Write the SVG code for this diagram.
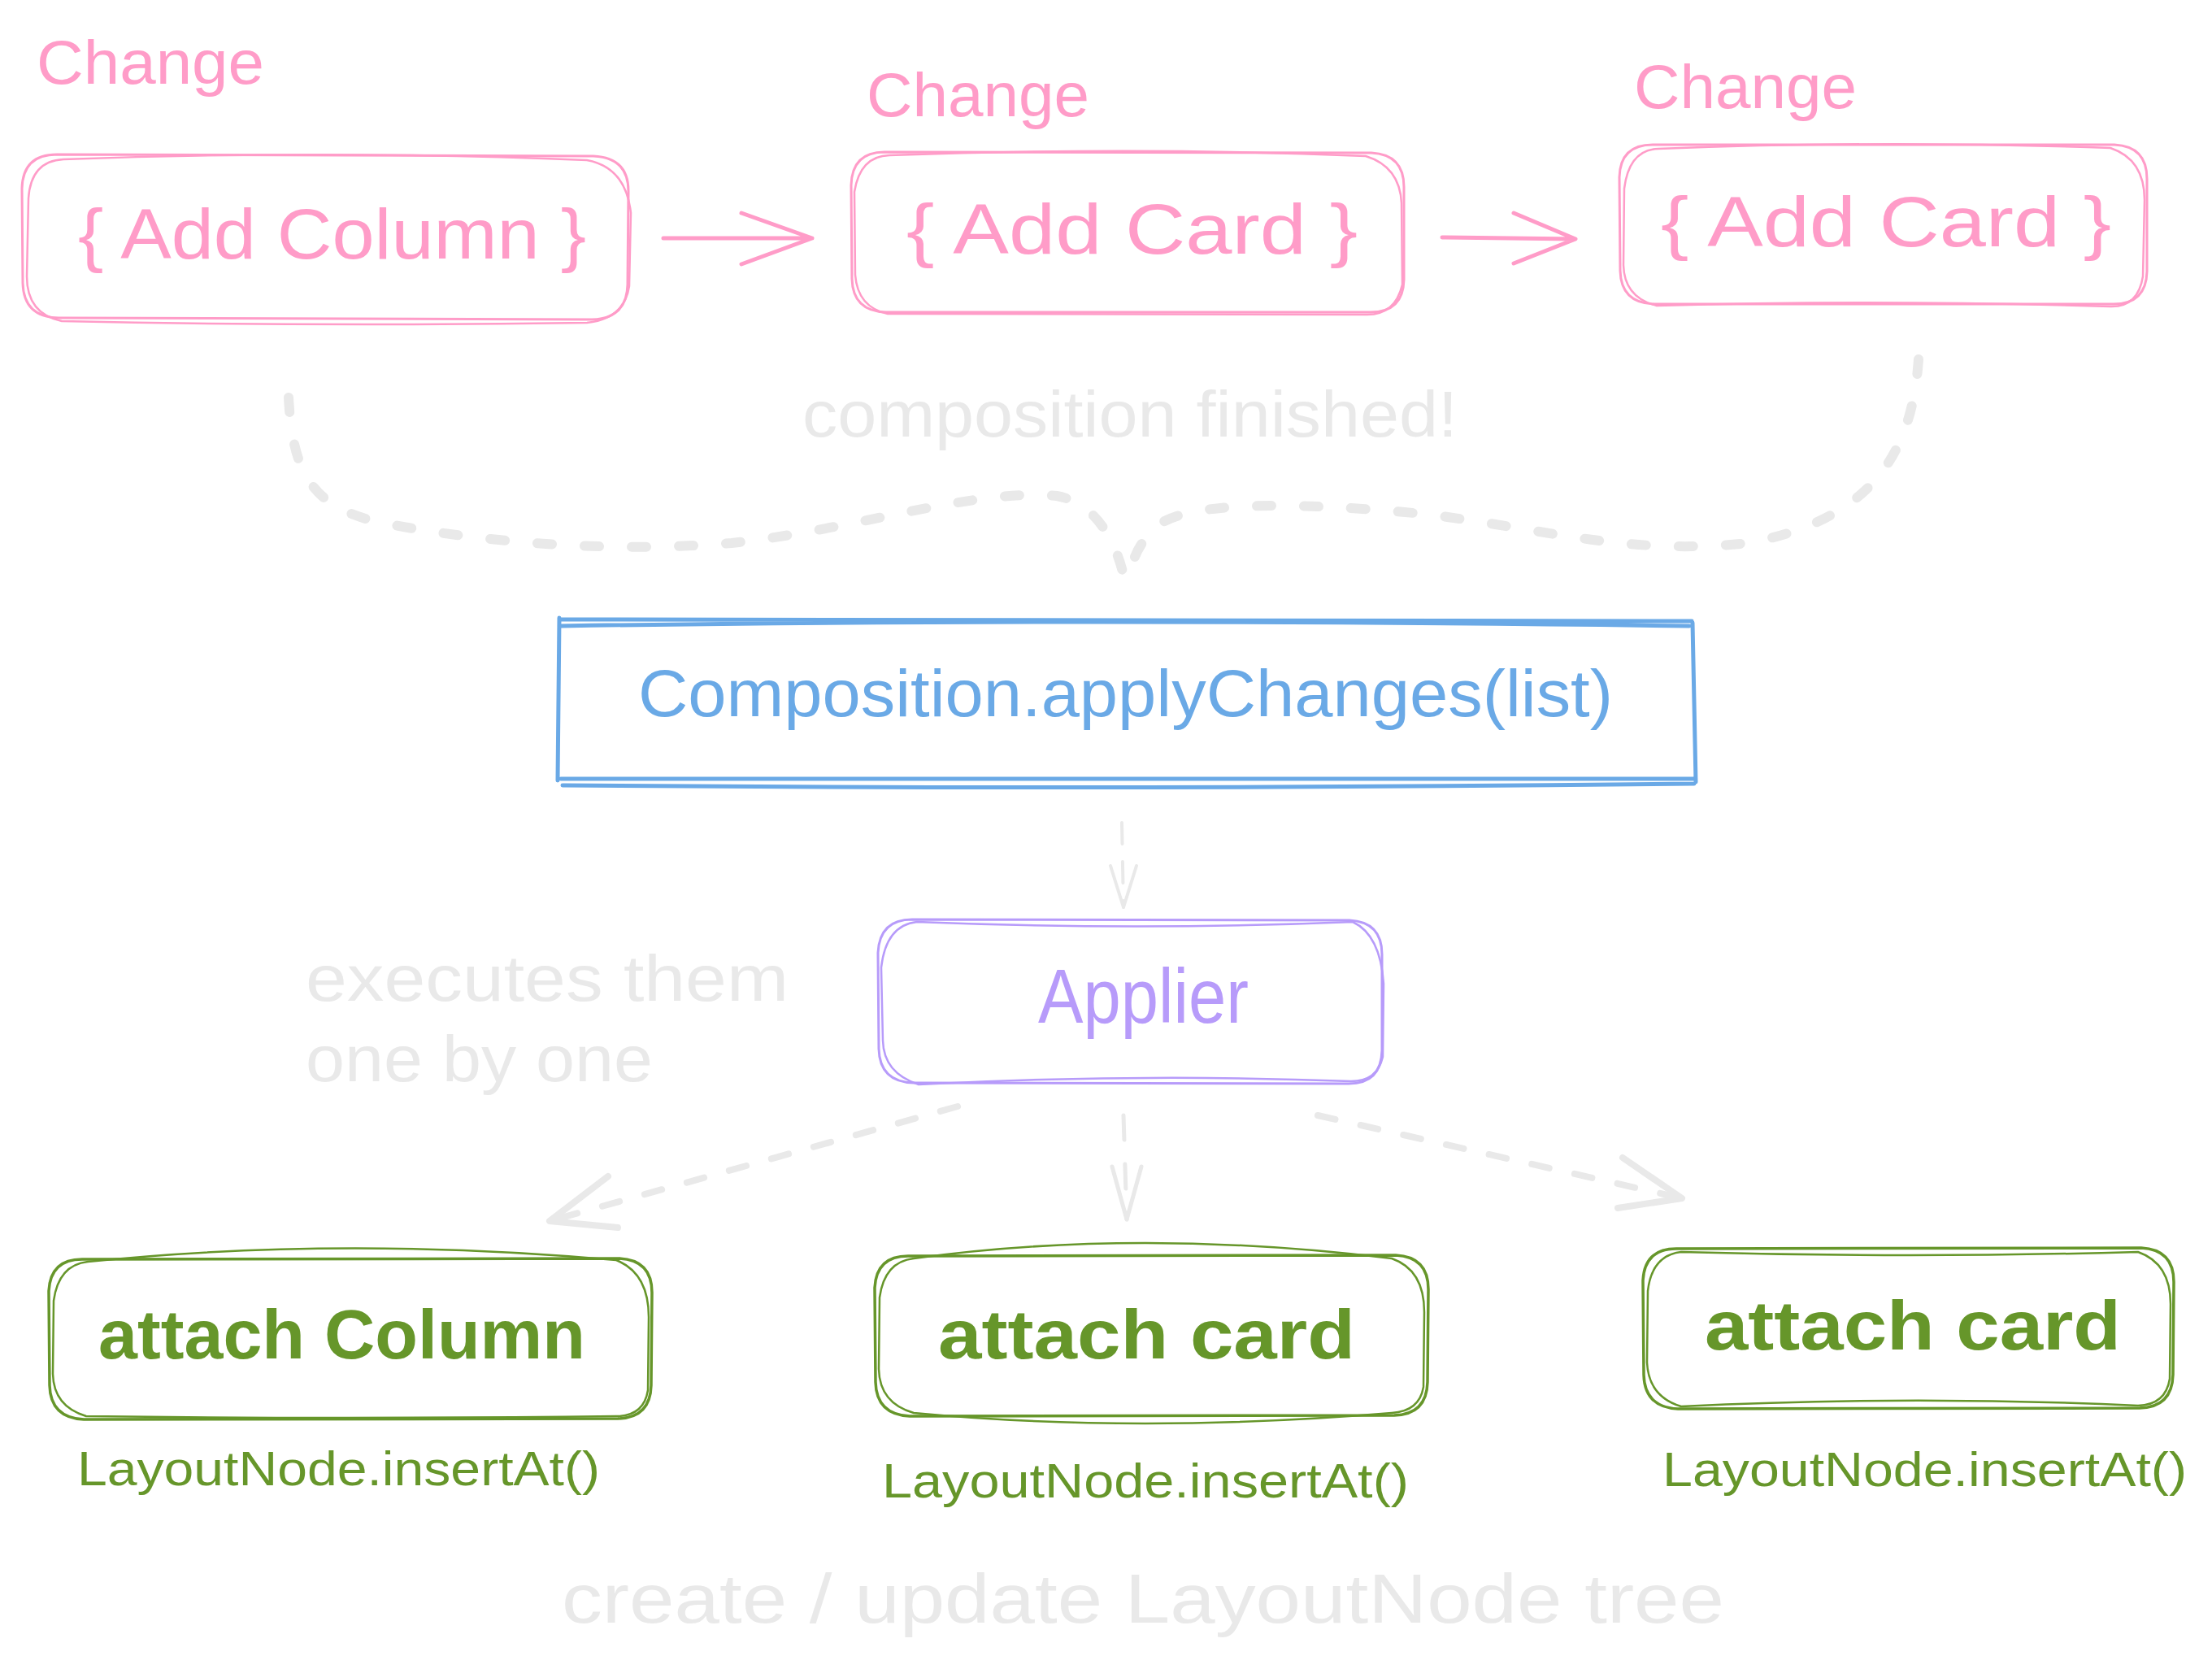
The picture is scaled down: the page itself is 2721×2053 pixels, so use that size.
<svg xmlns="http://www.w3.org/2000/svg" width="2721" height="2053" viewBox="0 0 2721 2053">
<style>
text{font-family:"Liberation Sans","DejaVu Sans",sans-serif}
.pk{fill:#ff9cc8}
.pks{fill:none;stroke:#ff9cc8;stroke-linecap:round;stroke-linejoin:round}
.bl{fill:#6aa9e6}
.bls{fill:none;stroke:#6aa9e6;stroke-linecap:round}
.pu{fill:#b79bfa}
.pus{fill:none;stroke:#b79bfa;stroke-linecap:round}
.gr{fill:#66962a}
.grs{fill:none;stroke:#66962a;stroke-linecap:round}
.gy{fill:#e9e9e9}
.gys{fill:none;stroke:#e9e9e9;stroke-linecap:round;stroke-linejoin:round}
</style>
<rect width="2721" height="2053" fill="#ffffff"/>

<g id="change-label-1"><text class="pk" x="45" y="103" font-size="76" textLength="280" lengthAdjust="spacingAndGlyphs">Change</text></g>
<g id="change-label-2"><text class="pk" x="1066" y="143" font-size="76" textLength="274" lengthAdjust="spacingAndGlyphs">Change</text></g>
<g id="change-label-3"><text class="pk" x="2010" y="133" font-size="76" textLength="274" lengthAdjust="spacingAndGlyphs">Change</text></g>

<g id="add-column">
<path class="pks" stroke-width="3" d="M70,190 L730,192 Q773,194 773,235 L772,350 Q771,392 728,393 L72,391 Q29,390 28,348 L27,232 Q28,190 70,190 Z"/>
<path class="pks" stroke-width="2.5" d="M78,196 Q410,184 722,197 Q770,206 776,262 L774,352 Q768,392 722,397 Q400,402 76,395 Q33,386 33,340 L35,244 Q38,198 78,196 Z"/>
<text class="pk" x="96" y="318" font-size="88" textLength="625" lengthAdjust="spacingAndGlyphs">{ Add Column }</text>
</g>

<g id="add-card-1">
<path class="pks" stroke-width="3" d="M1088,187 L1687,188 Q1727,190 1727,230 L1727,344 Q1726,384 1686,384 L1090,384 Q1049,383 1048,343 L1047,228 Q1048,187 1088,187 Z"/>
<path class="pks" stroke-width="2.5" d="M1094,191 Q1400,180 1680,192 Q1722,205 1724,250 L1725,350 Q1716,388 1680,387 L1092,386 Q1055,378 1052,338 L1051,236 Q1058,192 1094,191 Z"/>
<text class="pk" x="1115" y="312" font-size="88" textLength="555" lengthAdjust="spacingAndGlyphs">{ Add Card }</text>
</g>

<g id="add-card-2">
<path class="pks" stroke-width="3" d="M2033,178 L2601,178 Q2641,180 2641,220 L2641,334 Q2640,374 2600,374 L2035,374 Q1994,373 1993,333 L1992,218 Q1993,178 2033,178 Z"/>
<path class="pks" stroke-width="2.5" d="M2040,183 Q2320,172 2596,182 Q2638,196 2638,246 L2636,340 Q2630,378 2596,377 Q2300,368 2038,376 Q1998,366 1997,326 L1998,232 Q2004,184 2040,183 Z"/>
<text class="pk" x="2043" y="303" font-size="88" textLength="554" lengthAdjust="spacingAndGlyphs">{ Add Card }</text>
</g>

<g id="apply-changes">
<path class="bls" stroke-width="5" d="M688,762 L2081,764 M690,770 Q1300,760 2078,770 M688,760 L686,960 M2082,766 L2086,962 M690,958 L2083,958 M692,966 Q1400,972 2084,964"/>
<text class="bl" x="785" y="881" font-size="82" textLength="1199" lengthAdjust="spacingAndGlyphs">Composition.applyChanges(list)</text>
</g>

<g id="applier">
<path class="pus" stroke-width="3" d="M1122,1131 L1660,1132 Q1700,1134 1700,1174 L1700,1292 Q1699,1333 1659,1333 L1124,1332 Q1082,1331 1081,1290 L1080,1172 Q1082,1131 1122,1131 Z"/>
<path class="pus" stroke-width="2.5" d="M1128,1134 Q1400,1145 1664,1134 Q1698,1150 1702,1210 L1701,1300 Q1694,1330 1662,1330 Q1400,1320 1130,1334 Q1087,1320 1086,1280 L1084,1190 Q1090,1138 1128,1134 Z"/>
<text class="pu" x="1277" y="1258" font-size="94" textLength="259" lengthAdjust="spacingAndGlyphs">Applier</text>
</g>

<g id="attach-column">
<path class="grs" stroke-width="3.5" d="M101,1549 L762,1548 Q802,1550 802,1590 L801,1704 Q800,1744 760,1745 L103,1746 Q62,1744 61,1704 L60,1588 Q62,1549 101,1549 Z"/>
<path class="grs" stroke-width="2.5" d="M108,1552 Q420,1520 758,1550 Q798,1566 798,1620 L797,1710 Q792,1742 758,1742 Q420,1746 106,1742 Q66,1730 65,1690 L66,1600 Q72,1556 108,1552 Z"/>
<text class="gr" x="121" y="1671" font-size="86" font-weight="bold" textLength="599" lengthAdjust="spacingAndGlyphs">attach Column</text>
</g>

<g id="attach-card-1">
<path class="grs" stroke-width="3.5" d="M1117,1545 L1717,1544 Q1757,1546 1757,1586 L1756,1700 Q1755,1740 1715,1741 L1119,1742 Q1078,1740 1077,1700 L1076,1584 Q1078,1545 1117,1545 Z"/>
<path class="grs" stroke-width="2.5" d="M1124,1548 Q1400,1510 1712,1548 Q1752,1562 1752,1614 L1751,1706 Q1746,1736 1712,1738 Q1400,1764 1124,1738 Q1082,1726 1081,1684 L1082,1596 Q1088,1552 1124,1548 Z"/>
<text class="gr" x="1154" y="1671" font-size="86" font-weight="bold" textLength="513" lengthAdjust="spacingAndGlyphs">attach card</text>
</g>

<g id="attach-card-2">
<path class="grs" stroke-width="3.5" d="M2062,1536 L2634,1535 Q2674,1537 2674,1577 L2673,1691 Q2672,1731 2632,1732 L2064,1733 Q2023,1731 2022,1691 L2021,1575 Q2023,1536 2062,1536 Z"/>
<path class="grs" stroke-width="2.5" d="M2068,1540 Q2350,1548 2630,1540 Q2670,1554 2670,1604 L2669,1696 Q2664,1728 2630,1729 Q2350,1716 2068,1730 Q2028,1718 2026,1676 L2027,1588 Q2032,1544 2068,1540 Z"/>
<text class="gr" x="2097" y="1660" font-size="86" font-weight="bold" textLength="512" lengthAdjust="spacingAndGlyphs">attach card</text>
</g>

<g id="insert-1"><text class="gr" x="95" y="1827" font-size="60" textLength="643" lengthAdjust="spacingAndGlyphs">LayoutNode.insertAt()</text></g>
<g id="insert-2"><text class="gr" x="1085" y="1842" font-size="60" textLength="648" lengthAdjust="spacingAndGlyphs">LayoutNode.insertAt()</text></g>
<g id="insert-3"><text class="gr" x="2045" y="1828" font-size="60" textLength="645" lengthAdjust="spacingAndGlyphs">LayoutNode.insertAt()</text></g>

<g id="note-composition-finished"><text class="gy" x="987" y="537" font-size="80" textLength="806" lengthAdjust="spacingAndGlyphs">composition finished!</text></g>
<g id="note-executes">
<text class="gy" x="376" y="1231" font-size="80" textLength="594" lengthAdjust="spacingAndGlyphs">executes them</text>
<text class="gy" x="376" y="1330" font-size="80" textLength="427" lengthAdjust="spacingAndGlyphs">one by one</text>
</g>
<g id="note-create-update"><text class="gy" x="691" y="1996" font-size="86" textLength="1430" lengthAdjust="spacingAndGlyphs">create / update LayoutNode tree</text></g>

<g id="connectors">
<path class="pks" stroke-width="5" d="M816,293 L999,293 M912,262 L999,293 L912,325"/>
<path class="pks" stroke-width="5" d="M1774,292 L1938,294 M1862,262 L1938,294 L1862,324"/>
<path class="gys" stroke-width="12" stroke-dasharray="18 40" d="M355,489 C360,585 385,628 480,645 C600,668 760,680 900,668 C1050,652 1200,600 1300,610 C1355,620 1378,680 1385,722"/>
<path class="gys" stroke-width="12" stroke-dasharray="18 40" d="M2360,442 C2352,560 2300,640 2150,668 C2000,684 1900,650 1750,632 C1600,618 1460,615 1422,648 C1396,672 1389,700 1388,722"/>
<path class="gys" stroke-width="4" stroke-dasharray="26 22" d="M1380,1012 L1382,1116"/>
<path class="gys" stroke-width="4" d="M1366,1065 L1382,1116 L1398,1065"/>
<path class="gys" stroke-width="8" stroke-dasharray="22 32" d="M1178,1361 L676,1502"/>
<path class="gys" stroke-width="8" d="M748,1447 L676,1502 L760,1510"/>
<path class="gys" stroke-width="5" stroke-dasharray="30 30" d="M1382,1372 L1386,1500"/>
<path class="gys" stroke-width="5" d="M1368,1435 L1386,1500 L1404,1435"/>
<path class="gys" stroke-width="8" stroke-dasharray="22 32" d="M1621,1372 L2069,1474"/>
<path class="gys" stroke-width="8" d="M1996,1424 L2069,1474 L1990,1486"/>
</g>
</svg>
